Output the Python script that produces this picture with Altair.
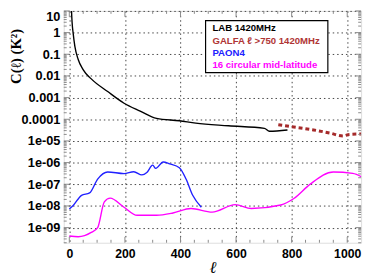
import altair as alt
import pandas as pd
import numpy as np

# ---------------- data ----------------
lab_l = [7, 8, 10, 14, 20, 32, 49, 79, 138, 197, 255, 314, 396, 455, 573, 702, 720, 785]
lab_v = [30, 10, 3, 0.9, 0.23, 0.057, 0.02, 0.0073, 0.0019, 5.5e-4, 2.4e-4, 1.1e-4,
         8.5e-5, 6.6e-5, 5.0e-5, 3.8e-5, 2.8e-5, 3.2e-5]

galfa_l = [752, 797, 879, 938, 985, 1008, 1055]
galfa_v = [5.6e-5, 4.6e-5, 3.2e-5, 2.3e-5, 1.7e-5, 2.0e-5, 2.1e-5]

paon_l = [0, 14, 44, 73, 102, 138, 197, 232, 261, 279, 300, 311, 338, 361, 396, 420, 444, 475]
paon_v = [7.2e-9, 1.05e-8, 3.1e-8, 4.0e-8, 1.74e-7, 3.7e-7, 3.1e-7, 3.8e-7, 2.7e-7, 3.5e-7,
          7.6e-7, 5.4e-7, 1.07e-6, 8.7e-7, 5.8e-7, 1.74e-7, 3.1e-8, 8.7e-9]

circ_l = [0, 32, 79, 102, 126, 147, 197, 244, 314, 373, 438, 514, 597, 655, 761, 808, 867, 950, 1020, 1052]
circ_v = [4.1e-10, 3.8e-10, 6.0e-10, 1.0e-9, 1.55e-8, 2.3e-8, 8.7e-9, 3.7e-9, 3.7e-9, 4.7e-9,
          7.6e-9, 5.2e-9, 1.15e-8, 7.6e-9, 1.1e-8, 2.2e-8, 1.02e-7, 3.7e-7, 3.2e-7, 2.2e-7]

legend_labels = ["LAB 1420MHz", "GALFA \u2113 >750 1420MHz", "PAON4", "16 circular mid-latitude"]
legend_colors = ["#000000", "#b03535", "#2020ff", "#ff00ff"]

x_ticks = [0, 200, 400, 600, 800, 1000]
y_ticks = [1e-9, 1e-8, 1e-7, 1e-6, 1e-5, 1e-4, 1e-3, 1e-2, 1e-1, 1, 10]
y_tick_labels = ["1e-09", "1e-08", "1e-07", "1e-06", "1e-05", "0.0001", "0.001", "0.01", "0.1", "1", "10"]

# ---------------- layout ----------------
W, H = 304, 237
XDOM = [-20, 1050]
YDOM = [2e-10, 10]
FRAME = "#8a8a8a"

xs = alt.Scale(domain=XDOM, nice=False, zero=False)
ys = alt.Scale(type="log", domain=YDOM, nice=False)

label_expr = "[" + ",".join("'%s'" % s for s in y_tick_labels) + "][round(log(datum.value)/LN10)+9]"

x_axis = alt.Axis(values=x_ticks, format="d", grid=True, gridDash=[1.5, 3], gridColor="#444",
                  gridWidth=1, ticks=False, domain=False, labelFont="Liberation Sans",
                  labelFontWeight="bold", labelFontSize=12.5, labelColor="black", labelPadding=5,
                  title="\u2113", titleFont="DejaVu Serif", titleFontStyle="italic",
                  titleFontWeight="normal", titleFontSize=17, titleY=30,
                  titleBaseline="alphabetic")
y_axis = alt.Axis(values=y_ticks, labelExpr=label_expr, grid=True, gridDash=[1.5, 3],
                  gridColor="#444", gridWidth=1, ticks=False, domain=False,
                  labelFont="Liberation Sans", labelFontWeight="bold", labelFontSize=13,
                  labelColor="black", labelPadding=4, labelFlush=True,
                  title="C(\u2113) (K\u00b2)", titleFont="Liberation Serif", titleFontWeight="bold",
                  titleFontSize=15, titleAngle=-90, titleX=-49, titleY=46,
                  titleAlign="center", titleBaseline="middle")

def X(field):
    return alt.X(field, type="quantitative", scale=xs, axis=x_axis)

def Y(field):
    return alt.Y(field, type="quantitative", scale=ys, axis=y_axis)

series = (
    [("LAB", l, v) for l, v in zip(lab_l, lab_v)]
    + [("PAON4", l, v) for l, v in zip(paon_l, paon_v)]
    + [("circ", l, v) for l, v in zip(circ_l, circ_v)]
)
df = pd.DataFrame(series, columns=["s", "l", "v"])
gdf = pd.DataFrame({"l": galfa_l, "v": galfa_v})

lines = alt.Chart(df).mark_line(strokeWidth=1.4, interpolate="monotone", clip=True).encode(
    x=X("l"), y=Y("v"),
    color=alt.Color("s:N", scale=alt.Scale(domain=["LAB", "PAON4", "circ"],
                                           range=["#000000", "#2020ff", "#ff00ff"]), legend=None),
    detail="s:N",
)

galfa = alt.Chart(gdf).mark_line(strokeWidth=3, strokeDash=[4, 3], color="#a52a2a",
                                 interpolate="monotone", clip=True).encode(
    x=X("l"), y=Y("v"))

# minor / major inner ticks
ymin = [k * 10.0 ** d for d in range(-10, 1) for k in range(2, 10) if YDOM[0] <= k * 10.0 ** d <= YDOM[1]]
ytk = pd.DataFrame({"v": ymin + y_ticks, "len": [3] * len(ymin) + [6] * len(y_ticks)})
xmin = [v for v in range(0, 1050, 50) if v not in x_ticks]
xtk = pd.DataFrame({"l": xmin + x_ticks, "len": [3] * len(xmin) + [6] * len(x_ticks)})

def yticks(side):
    layers = []
    for ln in (3, 6):
        d = ytk[ytk["len"] == ln]
        if side == "left":
            xa, xb = 0, ln
        else:
            xa, xb = W - ln, W
        layers.append(alt.Chart(d).mark_rule(color=FRAME, strokeWidth=1).encode(
            y=Y("v"), x=alt.value(xa), x2=alt.value(xb)))
    return layers

def xticks(side):
    layers = []
    for ln in (3, 6):
        d = xtk[xtk["len"] == ln]
        if side == "bottom":
            ya, yb = H - ln, H
        else:
            ya, yb = 0, ln
        layers.append(alt.Chart(d).mark_rule(color=FRAME, strokeWidth=1).encode(
            x=X("l"), y=alt.value(ya), y2=alt.value(yb)))
    return layers

tick_layers = yticks("left") + yticks("right") + xticks("bottom") + xticks("top")

# legend box
leg_df = pd.DataFrame({"t": legend_labels, "c": legend_colors, "i": list(range(len(legend_labels)))})
box = alt.Chart(pd.DataFrame({"a": [0]})).mark_rect(fill="white", stroke="black",
                                                   strokeWidth=1.2).encode(
    x=alt.value(145), x2=alt.value(270), y=alt.value(10), y2=alt.value(63))
leg_text = alt.Chart(leg_df).transform_calculate(
    py="18 + datum.i * 12.3"
).mark_text(align="left", baseline="middle", font="Liberation Sans",
            fontWeight="bold", fontSize=9.8).encode(
    x=alt.value(152),
    y=alt.Y("py:Q", scale=None),
    text="t:N",
    color=alt.Color("c:N", scale=None),
)

chart = alt.layer(lines, galfa, *tick_layers, box, leg_text).properties(
    width=W, height=H,
    autosize=alt.AutoSizeParams(type="none"),
    padding={"left": 57, "top": 0, "right": 5, "bottom": 31},
).configure_view(stroke=FRAME, strokeWidth=1.5).configure(background="white")

chart.save("out.html", embed_options={"renderer": "svg", "actions": False})
